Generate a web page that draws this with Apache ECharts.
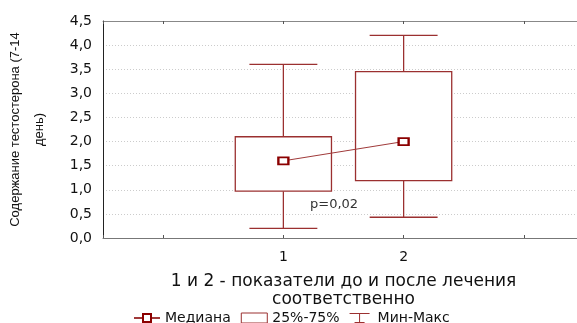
<!DOCTYPE html>
<html>
<head>
<meta charset="utf-8">
<script src="https://cdn.jsdelivr.net/npm/echarts@6/dist/echarts.min.js"></script>
<style>
  html, body { margin: 0; padding: 0; background: #fff; }
  #chart { width: 577px; height: 323px; }
</style>
</head>
<body>
<div id="chart"></div>
<script>
// groups: 1 = before treatment, 2 = after
const groups = [1, 2];
const mins = [0.2, 0.43];
const q1s = [0.97, 1.19];
const medians = [1.6, 2.0];
const q3s = [2.1, 3.45];
const maxs = [3.6, 4.2];
const yTicks = [0, 0.5, 1, 1.5, 2, 2.5, 3, 3.5, 4, 4.5];

const RED = "#9b3030";
const DARK = "#8b0000";

const boxData = groups.map((g, i) => [g, q1s[i], q3s[i]]);
const whiskerData = groups.map((g, i) => [g, mins[i], q1s[i], q3s[i], maxs[i]]);
const medianData = groups.map((g, i) => [g, medians[i]]);

const chart = echarts.init(document.getElementById("chart"));

const fmtNum = (v) => v.toFixed(1).replace(".", ",");

const option = {
  animation: false,
  textStyle: { fontFamily: "DejaVu Sans" },
  grid: { left: 103, top: 21, width: 481, height: 217, outerBoundsMode: "none" },
  xAxis: [
    {
      type: "value",
      min: -0.5,
      max: 3.5,
      position: "bottom",
      axisLine: { onZero: false, lineStyle: { color: "#777" } },
      axisTick: { inside: true, length: 3, lineStyle: { color: "#555" } },
      splitLine: { show: false },
      axisLabel: {
        color: "#111",
        fontSize: 14,
        margin: 12,
        formatter: (v) => (groups.includes(v) ? String(v) : ""),
      },
      name: "1 и 2 - показатели до и после лечения\nсоответственно",
      nameLocation: "middle",
      nameGap: 35,
      nameTextStyle: { color: "#111", fontSize: 17, lineHeight: 18 },
    },
    {
      type: "value",
      min: -0.5,
      max: 3.5,
      position: "top",
      axisLine: { onZero: false, lineStyle: { color: "#888" } },
      axisTick: { inside: true, length: 3, lineStyle: { color: "#555" } },
      axisLabel: { show: false },
      splitLine: { show: false },
    },
  ],
  yAxis: {
    type: "value",
    min: 0,
    max: 4.5,
    interval: 0.5,
    axisLine: { show: true, onZero: false, lineStyle: { color: "#222" } },
    axisTick: { show: false },
    axisLabel: {
      color: "#111",
      fontSize: 14,
      margin: 11,
      formatter: (v) => (yTicks.includes(v) ? fmtNum(v) : ""),
    },
    splitLine: { lineStyle: { color: "#ccc", type: [1, 2] } },
    name: "Содержание тестостерона (7-14\nдень)",
    nameLocation: "middle",
    nameRotate: 90,
    nameGap: 52,
    nameTextStyle: {
      color: "#111",
      fontSize: 13,
      lineHeight: 24,
      fontFamily: "Liberation Sans",
    },
  },
  legend: {
    left: 133,
    top: 311,
    padding: 0,
    itemGap: 10,
    itemWidth: 26,
    itemHeight: 10,
    textStyle: { color: "#111", fontSize: 14 },
    data: [
      { name: "Медиана" },
      {
        name: "25%-75%",
        icon: "rect",
        itemStyle: { color: "#fff", borderColor: RED, borderWidth: 1 },
      },
      {
        name: "Мин-Макс",
        icon: "path://M0,0 h24 v1.2 h-24 z M11.4,0 h1.2 v12 h-1.2 z M6,10.8 h12 v1.2 h-12 z",
        itemStyle: { color: RED, borderWidth: 0 },
      },
    ],
  },
  graphic: [
    {
      type: "text",
      left: 310,
      top: 198,
      style: { text: "p=0,02", fill: "#333", fontSize: 13, fontFamily: "DejaVu Sans" },
    },
  ],
  series: [
    {
      name: "Мин-Макс",
      type: "custom",
      data: whiskerData,
      encode: { x: 0, y: [1, 4] },
      itemStyle: { color: RED },
      renderItem: (params, api) => {
        const x = api.value(0);
        const pMin = api.coord([x, api.value(1)]);
        const pQ1 = api.coord([x, api.value(2)]);
        const pQ3 = api.coord([x, api.value(3)]);
        const pMax = api.coord([x, api.value(4)]);
        const half = api.size([0.565, 0])[0] / 2;
        const st = { stroke: RED, lineWidth: 1.3 };
        return {
          type: "group",
          children: [
            { type: "line", shape: { x1: pQ3[0], y1: pQ3[1], x2: pMax[0], y2: pMax[1] }, style: st },
            { type: "line", shape: { x1: pMax[0] - half, y1: pMax[1], x2: pMax[0] + half, y2: pMax[1] }, style: st },
            { type: "line", shape: { x1: pQ1[0], y1: pQ1[1], x2: pMin[0], y2: pMin[1] }, style: st },
            { type: "line", shape: { x1: pMin[0] - half, y1: pMin[1], x2: pMin[0] + half, y2: pMin[1] }, style: st },
          ],
        };
      },
    },
    {
      name: "25%-75%",
      type: "custom",
      data: boxData,
      encode: { x: 0, y: [1, 2] },
      itemStyle: { color: RED },
      renderItem: (params, api) => {
        const x = api.value(0);
        const lo = api.coord([x, api.value(1)]);
        const hi = api.coord([x, api.value(2)]);
        const w = api.size([0.8, 0])[0];
        return {
          type: "rect",
          shape: { x: lo[0] - w / 2, y: hi[1], width: w, height: lo[1] - hi[1] },
          style: { fill: "#fff", stroke: RED, lineWidth: 1.3 },
        };
      },
    },
    {
      name: "Медиана",
      type: "line",
      data: medianData,
      symbol: "rect",
      symbolSize: [10, 7],
      lineStyle: { color: "#a03a3a", width: 1 },
      itemStyle: { color: "#fff", borderColor: DARK, borderWidth: 2 },
      z: 5,
    },
  ],
};

chart.setOption(option);
</script>
</body>
</html>
